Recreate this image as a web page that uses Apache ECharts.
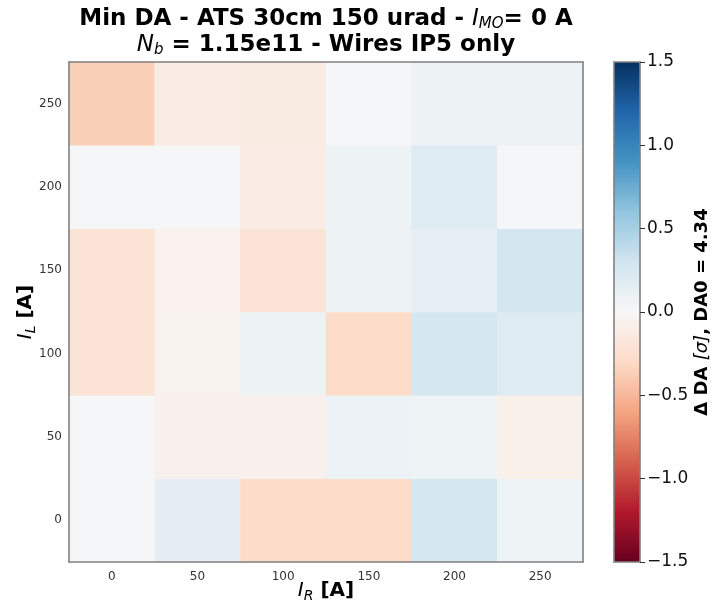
<!DOCTYPE html>
<html>
<head>
<meta charset="utf-8">
<script src="https://cdn.jsdelivr.net/npm/echarts@6/dist/echarts.min.js"></script>
<style>
  html, body { margin: 0; padding: 0; background: #fff; }
  #chart { width: 714px; height: 605px; }
</style>
</head>
<body>
<div id="chart"></div>
<script>
// Wire currents (A)
const currentsR = ['0', '50', '100', '150', '200', '250'];
const currentsL = ['0', '50', '100', '150', '200', '250'];

// Delta DA [sigma] per I_L row, ordered by I_R
const deltaDA_IL0   = [0.02, 0.15, -0.28, -0.28, 0.27, 0.07];
const deltaDA_IL50  = [0.02, -0.07, -0.07, 0.09, 0.07, -0.08];
const deltaDA_IL100 = [-0.21, -0.05, 0.08, -0.28, 0.27, 0.20];
const deltaDA_IL150 = [-0.21, -0.06, -0.21, 0.08, 0.14, 0.28];
const deltaDA_IL200 = [0.02, 0.02, -0.12, 0.08, 0.20, 0.02];
const deltaDA_IL250 = [-0.36, -0.12, -0.13, 0.02, 0.08, 0.08];

const colorbarTicks = [-1.5, -1.0, -0.5, 0.0, 0.5, 1.0, 1.5];

// RdBu colormap
const rdbu = ['#67001f', '#b2182b', '#d6604d', '#f4a582', '#fddbc7', '#f7f7f7',
              '#d1e5f0', '#92c5de', '#4393c3', '#2166ac', '#053061'];

const rows = [deltaDA_IL0, deltaDA_IL50, deltaDA_IL100, deltaDA_IL150, deltaDA_IL200, deltaDA_IL250];
const cells = [];
rows.forEach((row, yi) => row.forEach((v, xi) => cells.push([xi, yi, v])));

const FONT = 'DejaVu Sans';
const spine = { show: true, onZero: false, lineStyle: { color: '#808080', width: 1.6 } };
const lineOnly = (extra) => Object.assign({
  type: 'value', min: 0, max: 1, z: 10,
  axisLine: spine, axisTick: { show: false }, axisLabel: { show: false }, splitLine: { show: false }
}, extra);

const minus = (s) => s.replace('-', '\u2212');

const labelRich = {
  b: { fontFamily: FONT, fontWeight: 'bold', fontSize: 20, lineHeight: 25, color: '#000' },
  i: { fontFamily: FONT, fontStyle: 'italic', fontSize: 20, lineHeight: 25, color: '#000' },
  s: { fontFamily: FONT, fontStyle: 'italic', fontSize: 14, lineHeight: 14, verticalAlign: 'bottom', color: '#000' }
};

const chart = echarts.init(document.getElementById('chart'), null, { renderer: 'canvas' });
chart.setOption({
  animation: false,
  backgroundColor: '#ffffff',
  graphic: [{
    type: 'text',
    x: 326, y: 6,
    z: 20,
    style: {
      text: '{b|Min DA - ATS 30cm 150 urad - }{i|I}{s|MO}{b|= 0 A}\n{i|N}{s|b}{b| = 1.15e11 - Wires IP5 only}',
      align: 'center',
      verticalAlign: 'top',
      fill: '#000',
      rich: {
        b: { fontFamily: FONT, fontWeight: 'bold', fontSize: 23, lineHeight: 26, fill: '#000' },
        i: { fontFamily: FONT, fontStyle: 'italic', fontSize: 23, lineHeight: 26, fill: '#000' },
        s: { fontFamily: FONT, fontStyle: 'italic', fontSize: 15, lineHeight: 15, verticalAlign: 'bottom', fill: '#000' }
      }
    }
  }],
  grid: [
    { left: 69, top: 62, width: 514, height: 500, containLabel: false, outerBoundsMode: 'none' },
    { left: 614, top: 62, width: 26, height: 500, containLabel: false, outerBoundsMode: 'none' }
  ],
  xAxis: [
    {
      type: 'category', gridIndex: 0, data: currentsR, z: 10,
      axisLine: spine,
      axisTick: { alignWithLabel: true, length: 4, lineStyle: { color: '#333', width: 1 } },
      axisLabel: { fontFamily: FONT, fontSize: 12, color: '#333', margin: 9 },
      splitLine: { show: false },
      name: '{i|I}{s|R}{b| [A]}',
      nameLocation: 'middle', nameGap: 16, nameMoveOverlap: false,
      nameTextStyle: { rich: labelRich }
    },
    lineOnly({ gridIndex: 0, position: 'top' }),
    lineOnly({ gridIndex: 1, position: 'bottom' }),
    lineOnly({ gridIndex: 1, position: 'top' })
  ],
  yAxis: [
    {
      type: 'category', gridIndex: 0, data: currentsL, z: 10,
      axisLine: spine,
      axisTick: { alignWithLabel: true, length: 4, lineStyle: { color: '#333', width: 1 } },
      axisLabel: { fontFamily: FONT, fontSize: 12, color: '#333', margin: 7 },
      splitLine: { show: false },
      name: '{i|I}{s|L}{b| [A]}',
      nameLocation: 'middle', nameGap: 31, nameRotate: 90, nameMoveOverlap: false,
      nameTextStyle: { rich: labelRich }
    },
    lineOnly({ gridIndex: 0, position: 'right' }),
    {
      type: 'value', gridIndex: 1, position: 'right', z: 10,
      min: colorbarTicks[0], max: colorbarTicks[colorbarTicks.length - 1], interval: 0.5,
      axisLine: spine,
      axisTick: { show: true, length: 5, lineStyle: { color: '#333', width: 1 } },
      axisLabel: {
        fontFamily: FONT, fontSize: 17, color: '#111', margin: 7,
        formatter: (v) => minus(v.toFixed(1))
      },
      splitLine: { show: false },
      name: '{b|\u0394 DA }{i|[\u03c3]}{b|, DA0 = 4.34}',
      nameLocation: 'middle', nameGap: 51, nameRotate: 90, nameMoveOverlap: false,
      nameTextStyle: {
        rich: {
          b: { fontFamily: FONT, fontWeight: 'bold', fontSize: 18, lineHeight: 22, color: '#000' },
          i: { fontFamily: FONT, fontStyle: 'italic', fontSize: 18, lineHeight: 22, color: '#000' }
        }
      }
    },
    lineOnly({ gridIndex: 1, position: 'left' })
  ],
  visualMap: {
    type: 'continuous',
    seriesIndex: 0,
    min: colorbarTicks[0],
    max: colorbarTicks[colorbarTicks.length - 1],
    calculable: false,
    hoverLink: false,
    orient: 'vertical',
    left: 614, top: 62,
    itemWidth: 26, itemHeight: 500,
    padding: 0,
    text: null,
    showLabel: false,
    z: 1,
    inRange: { color: rdbu }
  },
  series: [{
    type: 'heatmap',
    xAxisIndex: 0, yAxisIndex: 0,
    data: cells,
    itemStyle: { borderWidth: 0 },
    emphasis: { disabled: true },
    progressive: 0
  }]
});
</script>
</body>
</html>
